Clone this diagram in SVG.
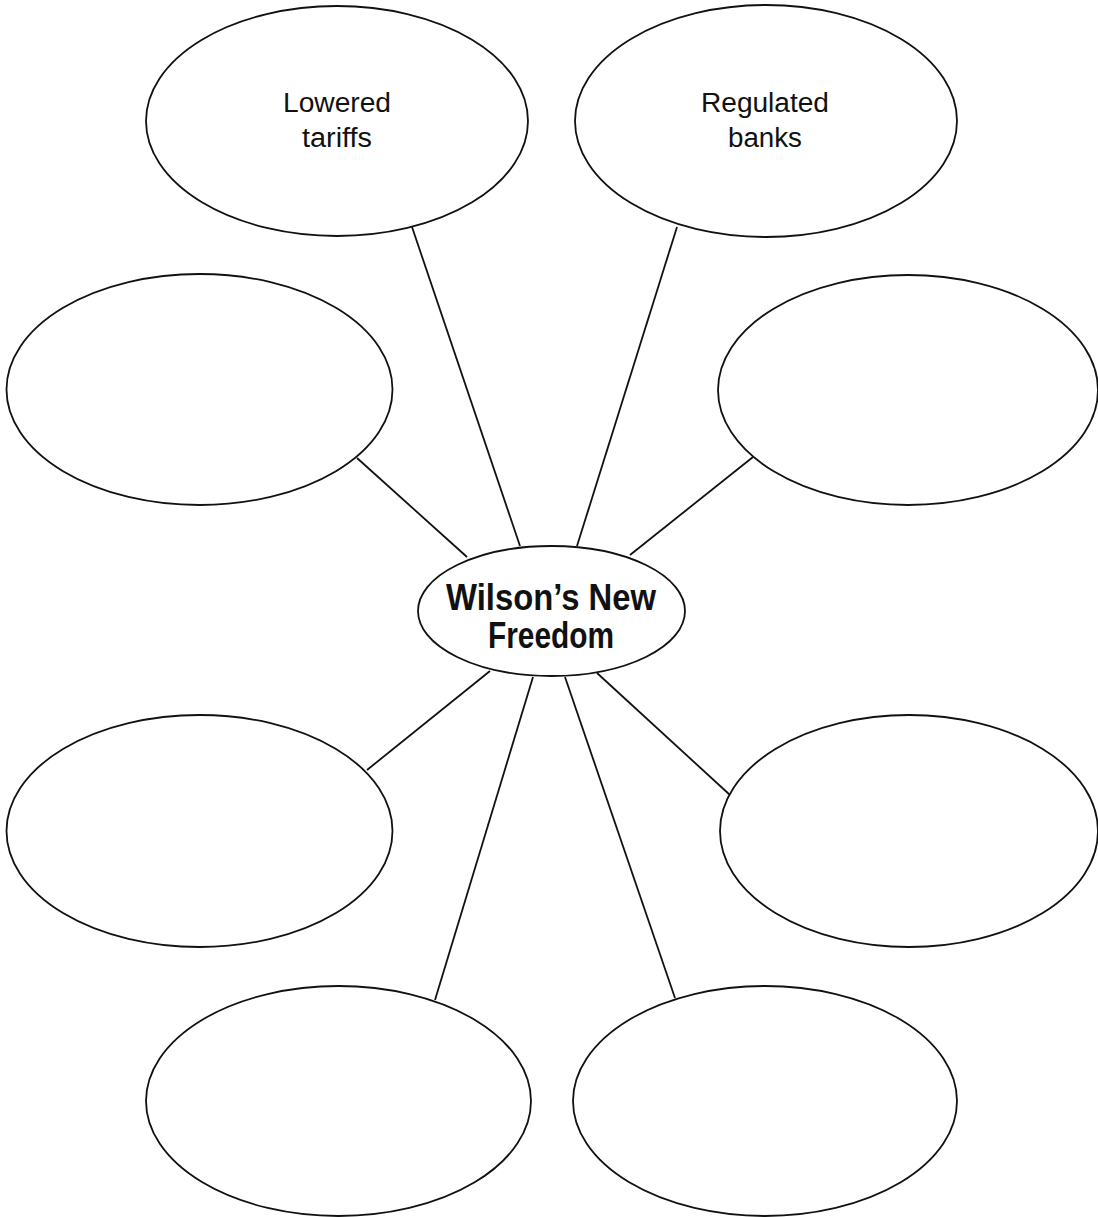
<svg xmlns="http://www.w3.org/2000/svg" width="1098" height="1217" viewBox="0 0 1098 1217">
  <style>
    .node { fill: #ffffff; stroke: #111111; stroke-width: 1.8; }
    .conn line { stroke: #111111; stroke-width: 1.8; }
    .lbl { font-family: "Liberation Sans", Arial, sans-serif; font-size: 27px; fill: #111111; text-anchor: middle; }
    .title { font-family: "Liberation Sans", Arial, sans-serif; font-size: 37px; font-weight: bold; fill: #111111; text-anchor: middle; }
  </style>
  <rect width="1098" height="1217" fill="#ffffff"/>
  <g id="connectors" class="conn">
    <line x1="412" y1="227" x2="520" y2="546"/>
    <line x1="677" y1="227" x2="577" y2="546"/>
    <line x1="357" y1="458" x2="467" y2="557"/>
    <line x1="753" y1="457" x2="630" y2="555"/>
    <line x1="490" y1="671" x2="367" y2="770"/>
    <line x1="597" y1="673" x2="730" y2="795"/>
    <line x1="533" y1="677" x2="435" y2="1000"/>
    <line x1="565" y1="677" x2="675" y2="998"/>
  </g>
  <g id="node-tl">
    <ellipse class="node" cx="337" cy="121" rx="191" ry="115"/>
    <text class="lbl" x="337" y="112" textLength="108" lengthAdjust="spacingAndGlyphs">Lowered</text>
    <text class="lbl" x="337" y="147" textLength="70" lengthAdjust="spacingAndGlyphs">tariffs</text>
  </g>
  <g id="node-tr">
    <ellipse class="node" cx="766" cy="121" rx="191" ry="116"/>
    <text class="lbl" x="765" y="112" textLength="128" lengthAdjust="spacingAndGlyphs">Regulated</text>
    <text class="lbl" x="765" y="147" textLength="74" lengthAdjust="spacingAndGlyphs">banks</text>
  </g>
  <g id="node-ml">
    <ellipse class="node" cx="199.5" cy="389.5" rx="193" ry="115.5"/>
  </g>
  <g id="node-mr">
    <ellipse class="node" cx="908" cy="390" rx="190" ry="115"/>
  </g>
  <g id="node-ll">
    <ellipse class="node" cx="199.5" cy="831" rx="193" ry="116"/>
  </g>
  <g id="node-lr">
    <ellipse class="node" cx="909" cy="831" rx="189" ry="116"/>
  </g>
  <g id="node-bl">
    <ellipse class="node" cx="338.5" cy="1101" rx="192.5" ry="115"/>
  </g>
  <g id="node-br">
    <ellipse class="node" cx="765" cy="1101" rx="192" ry="115"/>
  </g>
  <g id="node-center">
    <ellipse class="node" cx="551.5" cy="611" rx="133.5" ry="65"/>
    <text class="title" x="551" y="610" textLength="210" lengthAdjust="spacingAndGlyphs">Wilson’s New</text>
    <text class="title" x="551" y="648" textLength="126" lengthAdjust="spacingAndGlyphs">Freedom</text>
  </g>
</svg>
